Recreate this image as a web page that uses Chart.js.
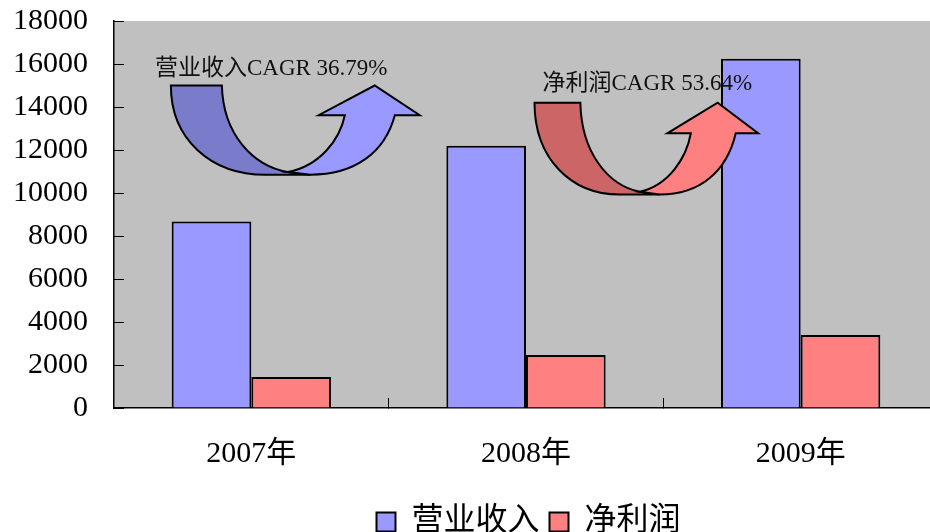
<!DOCTYPE html>
<html>
<head>
<meta charset="utf-8">
<script src="https://cdn.jsdelivr.net/npm/chart.js@4.4.0/dist/chart.umd.min.js"></script>
<style>
  html, body { margin: 0; padding: 0; background: #fff; overflow: hidden; }
  #wrap { position: absolute; left: 0; top: 0; width: 1057px; height: 548px; }
</style>
</head>
<body>
<div id="wrap"><canvas id="cagrChart"></canvas></div>
<script>
// data
const years = ['2007年', '2008年', '2009年'];
const revenue = [8680, 12200, 16250];   // 营业收入
const netProfit = [1440, 2460, 3400];   // 净利润
const yTicks = [0, 2000, 4000, 6000, 8000, 10000, 12000, 14000, 16000, 18000];

const serif = '"Liberation Serif", "Noto Sans CJK SC", serif';

// curved growth arrows, placed in axis units (category index / value)
const arrows = [
    { x0: -0.293, x1: 0.613, top: 15000, bottom: 10850, dark: '#7B7BCC', light: '#9999FF',
      label: '营业收入CAGR 36.79%', lx: -0.351, ly: 15770 },
    { x0: 1.031, x1: 1.845, top: 14200, bottom: 9930, dark: '#CC6666', light: '#FF8080',
      label: '净利润CAGR 53.64%', lx: 1.06, ly: 15080 }
];

const plotBackground = {
    id: 'plotBackground',
    beforeDraw(chart) {
        const { ctx, chartArea: a } = chart;
        ctx.save();
        ctx.fillStyle = '#C0C0C0';
        ctx.fillRect(a.left, a.top, a.right - a.left, a.bottom - a.top);
        ctx.restore();
    }
};

// legend is centred on the whole canvas, not on the padded area
const legendSpan = {
    id: 'legendSpan',
    afterLayout(chart) {
        const lg = chart.legend;
        lg.left = 0;
        lg.right = chart.width;
        lg.width = chart.width;
    }
};

const growthArrows = {
    id: 'growthArrows',
    afterDatasetsDraw(chart) {
        const { ctx, scales: { x, y } } = chart;
        arrows.forEach(ar => {
            const left = x.getPixelForValue(ar.x0);
            const w = x.getPixelForValue(ar.x1) - left;
            const top = y.getPixelForValue(ar.top);
            const h = y.getPixelForValue(ar.bottom) - top;
            const P = (u, v) => [left + u * w, top + v * h];

            ctx.save();
            ctx.lineWidth = 2;
            ctx.strokeStyle = '#000';
            ctx.lineJoin = 'miter';

            // back half (tail going down)
            ctx.beginPath();
            ctx.moveTo(...P(0, 0));
            ctx.bezierCurveTo(...P(0, 0.6), ...P(0.16, 1), ...P(0.38, 1));
            ctx.lineTo(...P(0.56, 1));
            ctx.lineTo(...P(0.47, 0.97));
            ctx.bezierCurveTo(...P(0.33, 0.9), ...P(0.21, 0.55), ...P(0.205, 0));
            ctx.closePath();
            ctx.fillStyle = ar.dark;
            ctx.fill();
            ctx.stroke();

            // front half with arrow head
            ctx.beginPath();
            ctx.moveTo(...P(0.47, 0.97));
            ctx.bezierCurveTo(...P(0.6, 0.9), ...P(0.68, 0.6), ...P(0.699, 0.333));
            ctx.lineTo(...P(0.594, 0.333));
            ctx.lineTo(...P(0.819, 0));
            ctx.lineTo(...P(1, 0.333));
            ctx.lineTo(...P(0.9, 0.333));
            ctx.bezierCurveTo(...P(0.86, 0.75), ...P(0.74, 1), ...P(0.56, 1));
            ctx.closePath();
            ctx.fillStyle = ar.light;
            ctx.fill();
            ctx.stroke();

            // CAGR label
            ctx.font = '23px ' + serif;
            ctx.fillStyle = '#111';
            ctx.textAlign = 'left';
            ctx.textBaseline = 'middle';
            ctx.fillText(ar.label, x.getPixelForValue(ar.lx), y.getPixelForValue(ar.ly));
            ctx.restore();
        });
    }
};

const ctx = document.getElementById('cagrChart').getContext('2d');
const chart = new Chart(ctx, {
    type: 'bar',
    data: {
        labels: years,
        datasets: [{
            label: '营业收入',
            data: revenue,
            backgroundColor: '#9999FF',
            borderColor: '#000',
            borderWidth: 2
        }, {
            label: '净利润',
            data: netProfit,
            backgroundColor: '#FF8080',
            borderColor: '#000',
            borderWidth: 2
        }]
    },
    options: {
        responsive: true,
        maintainAspectRatio: false,
        animation: false,
        categoryPercentage: 0.58,
        barPercentage: 1.0,
        layout: { padding: { top: 21, right: 119, left: 0, bottom: 0 } },
        scales: {
            x: {
                grid: { drawOnChartArea: false, color: '#000', lineWidth: 1, tickLength: -10 },
                border: { color: '#000', width: 1.5 },
                ticks: { color: '#000', font: { family: serif, size: 30 }, padding: 38, maxRotation: 0 },
                afterFit(scale) {
                    scale.height = 88;
                    scale.paddingLeft = 0;
                    scale.paddingRight = 0;
                }
            },
            y: {
                min: 0,
                max: 18000,
                afterBuildTicks(scale) { scale.ticks = yTicks.map(v => ({ value: v })); },
                grid: { drawOnChartArea: false, color: '#000', lineWidth: 1, tickLength: -10 },
                border: { color: '#000', width: 1.5 },
                ticks: {
                    color: '#000',
                    font: { family: serif, size: 30 },
                    padding: 36,
                    callback: v => String(v)
                },
                afterFit(scale) {
                    scale.width = 114;
                    scale.paddingTop = 0;
                    scale.paddingBottom = 0;
                }
            }
        },
        plugins: {
            legend: {
                position: 'bottom',
                labels: {
                    color: '#000',
                    boxWidth: 19,
                    boxHeight: 19,
                    padding: 10,
                    font: { family: serif, size: 32 }
                }
            },
            tooltip: { enabled: false }
        }
    },
    plugins: [plotBackground, legendSpan, growthArrows]
});
</script>
</body>
</html>
